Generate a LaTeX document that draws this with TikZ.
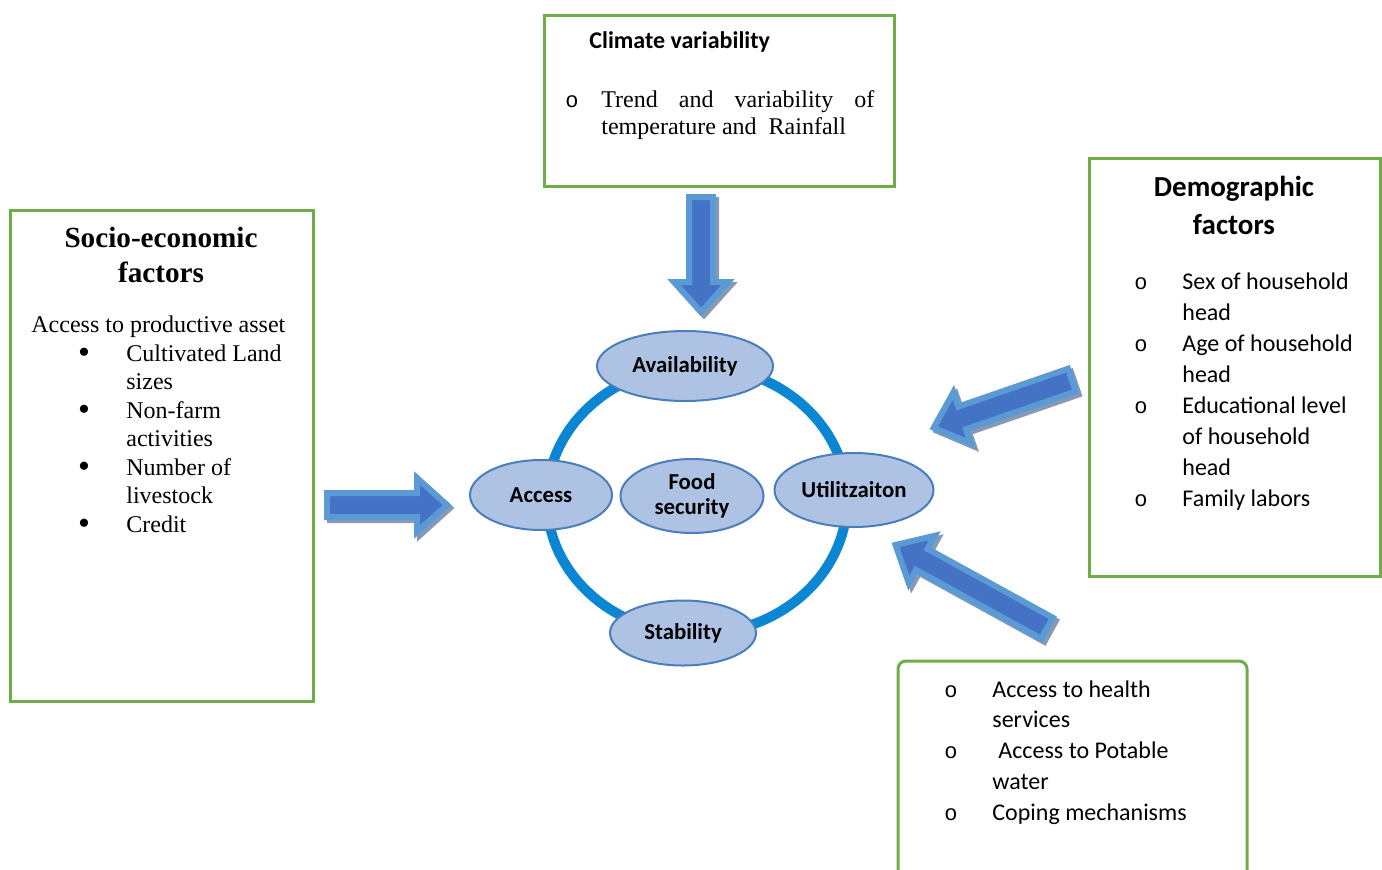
\documentclass[tikz,border=0pt]{standalone}
\usepackage{fontspec}
\setmainfont{Liberation Serif}
\newfontfamily\calibri{Carlito}
\newfontfamily\bulletfont{Liberation Mono}
\usetikzlibrary{shapes.geometric}
\definecolor{boxgreen}{HTML}{70AD47}
\definecolor{ringblue}{HTML}{0A86D2}
\definecolor{phasefill}{HTML}{AEC3E3}
\definecolor{phaseedge}{HTML}{4A7EBB}
\definecolor{arrowlight}{HTML}{5B9BD5}
\definecolor{arrowdark}{HTML}{4472C4}
\definecolor{arrowgrey}{HTML}{8A99B3}

\newcommand{\fatarrow}[4]{%
\begin{scope}[shift={(#1+3,#2+3)},rotate=#3]
\path[arrowback] (-4,0) -- (-34,27) -- (-34,12) -- (-#4+3,12) -- (-#4+3,-12) -- (-34,-12) -- (-34,-27) -- cycle;
\end{scope}
\begin{scope}[shift={(#1,#2)},rotate=#3]
\path[arrowbody] (-4,0) -- (-34,27) -- (-34,12) -- (-#4+3,12) -- (-#4+3,-12) -- (-34,-12) -- (-34,-27) -- cycle;
\end{scope}}

\begin{document}
\begin{tikzpicture}[x=0.5pt,y=-0.5pt,
greenbox/.style={draw=boxgreen,line width=1.5pt},
ring/.style={draw=ringblue,line width=5pt},
phase/.style={ellipse,draw=phaseedge,fill=phasefill,line width=1pt,inner sep=0pt,align=center,
  font=\calibri\bfseries\fontsize{11.4}{12.5}\selectfont},
serif/.style={anchor=base west,inner sep=0pt,font=\fontsize{12}{14}\selectfont},
serifhead/.style={anchor=base,inner sep=0pt,font=\bfseries\fontsize{14.6}{17}\selectfont},
sans/.style={anchor=base west,inner sep=0pt,font=\calibri\fontsize{12}{14}\selectfont},
sanshead/.style={anchor=base,inner sep=0pt,font=\calibri\bfseries\fontsize{14.5}{17}\selectfont},
hollow/.style={anchor=base,inner sep=0pt,font=\bulletfont\fontsize{11}{14}\selectfont},
solid/.style={anchor=base,inner sep=0pt,font=\fontsize{17}{14}\selectfont},
arrowback/.style={fill=arrowgrey,draw=arrowgrey,line width=3pt,line join=miter},
arrowbody/.style={fill=arrowdark,draw=arrowlight,line width=3pt,line join=miter}]
\useasboundingbox (0,0) rectangle (1382,869);
\clip (0,0) rectangle (1382,869);

\draw[greenbox] (10,210) rectangle (313,701);
\draw[greenbox] (544,15) rectangle (894,186);
\draw[greenbox] (1089,158) rectangle (1380,576);
\draw[greenbox,rounded corners=4pt] (898,661) rectangle (1247,900);

\node[serifhead] (sochead) at (161,247) {Socio-economic};
\node[serifhead] (sochead2) at (161,282) {factors};
\node[serif] (asset) at (31,332) {Access to productive asset};
\foreach \t [count=\k from 0] in {Cultivated Land,sizes,Non-farm,activities,Number of,livestock,Credit} {
\node[serif] (soc\k) at (126,361+28.5*\k) {\t};
}
\foreach \k in {0,2,4,6} {
\node[solid] (socb\k) at (84,363+28.5*\k) {\textbullet};
}

\node[sanshead,anchor=base west,font=\calibri\bfseries\fontsize{12}{14}\selectfont] (climhead) at (589,48) {Climate variability};
\node[hollow] (climb) at (572,107) {o};
\node[serif] (clim0) at (601,107) {\hbox to 136.5pt{Trend\hfill and\hfill variability\hfill of}};
\node[serif] (clim1) at (601,134) {temperature and\ \ Rainfall};

\node[sanshead] (demhead) at (1234,196) {Demographic};
\node[sanshead] (demhead2) at (1234,234) {factors};
\foreach \t [count=\k from 0] in {Sex of household,head,Age of household,head,Educational level,of household,head,Family labors} {
\node[sans] (dem\k) at (1182,289+31.1*\k) {\t};
}
\foreach \k in {0,2,4,7} {
\node[hollow] (demb\k) at (1141,289+31.1*\k) {o};
}

\foreach \t [count=\k from 0] in {Access to health,services,{\kern3pt Access to Potable},water,Coping mechanisms} {
\node[sans] (cope\k) at (992,697+30.8*\k) {\t};
}
\foreach \k in {0,2,4} {
\node[hollow] (copeb\k) at (951,697+30.8*\k) {o};
}

\coordinate (hub) at (697,500);
\draw[ring] (hub) ellipse [x radius=75pt,y radius=67pt];
\node[phase,minimum width=88pt,minimum height=35pt] (avail) at (685,366) {Availability};
\node[phase,minimum width=71pt,minimum height=35pt] (access) at (541,495) {Access};
\node[phase,minimum width=71.5pt,minimum height=37pt] (food) at (692,496) {Food\\security};
\node[phase,minimum width=79.5pt,minimum height=37pt] (util) at (854,490) {Utilitzaiton};
\node[phase,minimum width=73pt,minimum height=32.5pt] (stab) at (683,633) {Stability};

\fatarrow{701}{316}{-90}{122}
\fatarrow{451}{505}{0}{127}
\fatarrow{930}{429}{199}{153}
\fatarrow{892}{543}{151.2}{180}
\end{tikzpicture}
\end{document}
